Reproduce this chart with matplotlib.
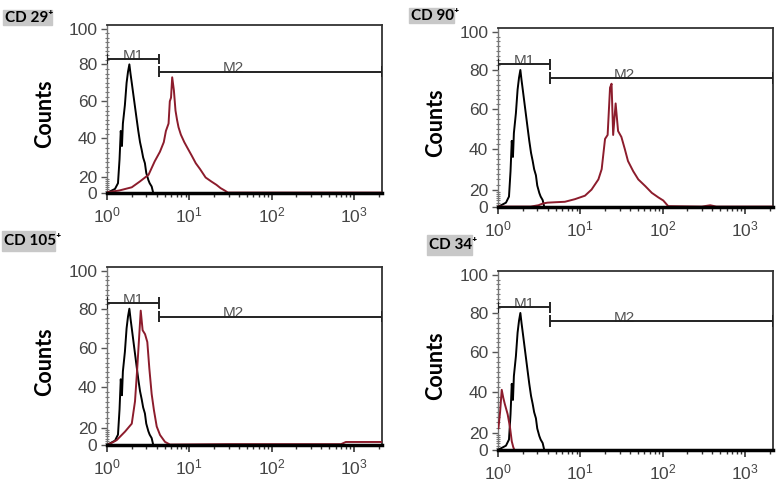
import numpy as np
import matplotlib
matplotlib.use("Agg")
import matplotlib.pyplot as plt
from matplotlib.ticker import FixedLocator, MultipleLocator, LogLocator, NullFormatter

plt.rcParams['font.family'] = ['Liberation Sans', 'DejaVu Sans']
plt.rcParams['mathtext.fontset'] = 'custom'
plt.rcParams['mathtext.rm'] = 'Liberation Sans'

# isotype control (black), same in every panel
ctrl_x = [1.0, 1.09, 1.25, 1.36, 1.42, 1.47, 1.52, 1.56, 1.65, 1.73, 1.80, 1.87, 1.93,
          2.0, 2.1, 2.19, 2.3, 2.4, 2.52, 2.64, 2.75, 2.89, 3.0, 3.18, 3.3, 3.49, 3.65]
ctrl_y = [0, 2, 5, 12, 29, 44, 36, 48, 58, 70, 76, 80, 75,
          70, 63, 57, 50, 44, 38, 34, 30, 27, 22, 16, 12, 8, 0]

# stained samples (red)
cd29_x = [1.0, 1.4, 2.0, 2.5, 3.2, 3.8, 4.4, 4.9, 5.2, 5.6, 5.8, 6.0, 6.2, 6.5, 6.8,
          7.1, 7.4, 7.9, 8.7, 9.5, 10.7, 12, 13.5, 15.8, 18.6, 21.4, 24, 27, 29.5, 2200]
cd29_y = [1, 3, 7, 14, 21, 28, 33, 38, 44, 48, 60, 62, 73, 66, 55,
          50, 46, 42, 38, 35, 31, 27, 24, 19, 14, 10, 6, 3, 0.5, 0.5]

cd90_x = [1.0, 2.5, 3.1, 3.5, 4.0, 5.0, 6.5, 8.6, 11.4, 13.7, 16.6, 18.2, 20, 21.5, 23,
          24, 25.1, 26.9, 28.8, 31.6, 34.7, 38, 44, 50.7, 61.7, 74, 89, 102, 117,
          300, 380, 450, 2200]
cd90_y = [0.5, 0.5, 2, 4, 5, 5.5, 6, 9, 13, 20, 25, 30, 45, 47, 71,
          73, 47, 63, 49, 46, 40, 34, 29, 25, 21.7, 16.3, 11, 7.5, 1,
          0.5, 2, 0.5, 0.5]

cd105_x = [1.0, 1.04, 1.31, 1.66, 2.0, 2.19, 2.33, 2.47, 2.57, 2.71, 2.90, 3.09, 3.27,
           3.49, 3.72, 4.02, 4.41, 5.07, 5.83, 30, 700, 800, 2200]
cd105_y = [0, 0.5, 5.6, 15.6, 22, 33, 49.5, 67, 79, 69, 67, 63, 49.5,
           36.6, 28.6, 20.6, 11.6, 3.6, 0.5, 1, 1, 3.5, 3.5]

cd34_x = [1.0, 1.01, 1.06, 1.11, 1.16, 1.21, 1.31, 1.40, 1.47, 1.53, 1.58]
cd34_y = [22, 22, 30, 41, 37, 34, 29, 22.5, 10, 3.6, 0]

labels = ['CD 29⁺', 'CD 90⁺', 'CD 105⁺', 'CD 34⁺']

# marker gates
m1_range = (1.0, 4.32)
m2_range = (4.32, 2200)
m1_level = 83
m2_level = 76

# the count axis of these exports is squeezed between 0 and 20
cnt_pts = [-20, 0, 20, 40, 60, 80, 100, 120]
frac_pts = [-0.097, 0, 0.097, 0.325, 0.545, 0.765, 0.977, 1.197]

def fwd(v):
    return np.interp(v, cnt_pts, frac_pts)

def inv(v):
    return np.interp(v, frac_pts, cnt_pts)

W, H = 782, 486
fig = plt.figure(figsize=(W / 100, H / 100), dpi=100)

# panel boxes in pixels: left, right, top, bottom
boxes = [(107, 382, 25, 193), (498, 773, 28, 207),
         (107, 382, 267, 445), (498, 773, 271, 450)]
# label boxes in pixels: left, right, top, bottom
tag_boxes = [(3, 52, 10, 25), (409, 454, 8, 23), (2, 55, 231, 251), (427, 472, 235, 255)]

samples = [(cd29_x, cd29_y), (cd90_x, cd90_y), (cd105_x, cd105_y), (cd34_x, cd34_y)]
red = '#8c1c2c'

for i in range(4):
    l, r, t, b = boxes[i]
    ax = fig.add_axes([l / W, 1 - b / H, (r - l) / W, (b - t) / H])
    ax.set_xscale('log')
    ax.set_yscale('function', functions=(fwd, inv))
    ax.set_xlim(1, 2200)
    ax.set_ylim(0, 102)

    ax.plot(ctrl_x, ctrl_y, color='black', lw=1.4, zorder=3)
    sx, sy = samples[i]
    ax.plot(sx, sy, color=red, lw=1.4, zorder=4)

    # gates
    ax.hlines(m1_level, m1_range[0], m1_range[1], color='#222222', lw=1.4, zorder=5)
    ax.vlines(m1_range, m1_level - 3, m1_level + 3, color='#222222', lw=1.4, zorder=5)
    ax.hlines(m2_level, m2_range[0], m2_range[1], color='#222222', lw=1.4, zorder=5)
    ax.vlines(m2_range, m2_level - 3, m2_level + 3, color='#222222', lw=1.4, zorder=5)
    ax.text(2.1, m1_level - 2, 'M1', ha='center', va='bottom', fontsize=11, color='#555555')
    ax.text(34, m2_level - 2, 'M2', ha='center', va='bottom', fontsize=11, color='#555555')

    ax.yaxis.set_major_locator(FixedLocator([0, 20, 40, 60, 80, 100]))
    ax.yaxis.set_minor_locator(MultipleLocator(2.5))
    ax.xaxis.set_major_locator(LogLocator(base=10))
    ax.xaxis.set_minor_locator(LogLocator(base=10, subs=np.arange(2, 10)))
    ax.xaxis.set_minor_formatter(NullFormatter())

    ax.tick_params(axis='y', which='major', length=4, width=1, direction='out',
                   labelsize=12.5, labelcolor='#444444', color='#555555', pad=3)
    ax.tick_params(axis='y', which='minor', length=3, width=0.8, direction='inout', color='#777777')
    ax.tick_params(axis='x', which='major', length=5, width=1.2, direction='out',
                   labelsize=12.5, labelcolor='#444444', color='#333333', pad=4)
    ax.tick_params(axis='x', which='minor', length=3, width=1, direction='out', color='#333333')

    for s in ['top', 'right']:
        ax.spines[s].set_color('#333333')
        ax.spines[s].set_linewidth(1.3)
    ax.spines['left'].set_color('#777777')
    ax.spines['left'].set_linewidth(1.0)
    ax.spines['bottom'].set_color('black')
    ax.spines['bottom'].set_linewidth(2.5)
    ax.spines['bottom'].set_zorder(6)

    ax.set_ylabel('Counts', fontsize=15.5, fontweight='bold', family=['Lato', 'DejaVu Sans'])
    ax.yaxis.set_label_coords(-0.19, 0.47)

    tl, tr, tt, tb = tag_boxes[i]
    fig.patches.append(plt.Rectangle((tl / W, 1 - tb / H), (tr - tl) / W, (tb - tt) / H,
                                     transform=fig.transFigure, color='#c8c8c8', zorder=0))
    fig.text((tl + 2) / W, 1 - (tt + tb) / 2 / H, labels[i], ha='left', va='center',
             fontsize=11, fontweight='bold', family=['Lato', 'DejaVu Sans'], color='black')

fig.savefig('out.png', dpi=100)
